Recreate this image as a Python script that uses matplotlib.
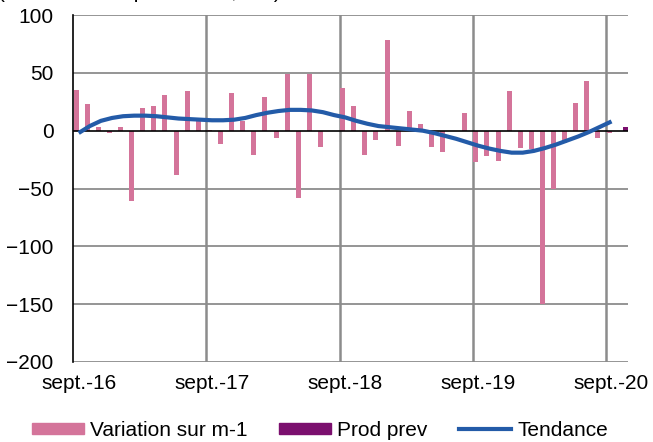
import numpy as np
import matplotlib
matplotlib.use("Agg")
import matplotlib.pyplot as plt
from matplotlib.patches import Patch
from matplotlib.lines import Line2D

plt.rcParams['font.family'] = ['Liberation Sans', 'DejaVu Sans']

# mois de sept.-16 a oct.-20
tick_labels = ["sept.-16", "sept.-17", "sept.-18", "sept.-19", "sept.-20"]

variation = [35.6, 23.3, 3, -2.3, 3.2, -61, 20, 21, 31, -38,
             34.7, 8.6, 1, -11.8, 32.8, 8.6, -20.7, 29.3, -6.3, 48.9,
             -58, 49, -13.8, 0, 36.5, 21, -21, -8, 78, -13,
             17, 5.5, -14, -18, 0, 15, -27, -21.5, -26.5, 34,
             -14.7, -16, -150, -50, -11, 24, 43, -6, -2, np.nan]

prod_prev = [np.nan] * 49 + [3]

tendance = [-2, 4, 8.5, 11, 12.5, 13, 13, 12.5, 11.5, 10.5,
            10, 9.5, 9, 9, 9.5, 11, 13.5, 15.5, 17, 18,
            18, 17.5, 16, 13.5, 11.5, 8.5, 6, 4, 3, 2,
            1, 0, -2, -4.5, -7, -10, -13, -15.5, -17.5, -19,
            -19, -17.5, -15, -12, -8.5, -5, -1, 3.5, 8]

pink = "#D4749A"
purple = "#7B0F6E"
blue = "#235BA8"
grid = "#8C8C8C"

n = len(variation)
x = np.arange(n)
w = 0.45

fig = plt.figure(figsize=(6.53, 4.42), dpi=100)
ax = fig.add_axes([0.112, 0.181, 0.85, 0.785])

for yv in [100, 50, -50, -100, -150, -200]:
    ax.axhline(yv, color=grid, lw=1.3, zorder=0)
for xv in [12, 24, 36, 48]:
    ax.axvline(xv, color=grid, lw=1.8, zorder=0)

ax.bar(x + 0.5 - w / 2, variation, width=w, color=pink, zorder=2)
ax.bar(x + 0.5 + w / 2, prod_prev, width=w, color=purple, zorder=2)
ax.axhline(0, color="black", lw=1.2, zorder=3)
ax.plot(np.arange(len(tendance)) + 0.5, tendance, color=blue, lw=3,
        solid_capstyle="butt", zorder=4)

ax.set_xlim(0, 50)
ax.set_ylim(-200, 100)
ax.set_yticks([100, 50, 0, -50, -100, -150, -200])
ax.set_xticks([0.5, 12.5, 24.5, 36.5, 48.5])
ax.set_xticklabels(tick_labels)
ax.tick_params(axis="both", length=0, labelsize=15)
ax.tick_params(axis="y", pad=14)
ax.tick_params(axis="x", pad=9)
for s in ["top", "right", "bottom"]:
    ax.spines[s].set_visible(False)
ax.spines["left"].set_color("black")
ax.spines["left"].set_linewidth(1.2)

# titre coupe en haut de l'image, comme dans l'original
fig.text(-0.003, 1.0 + 2.5 / 442, "(en milliers de personnes, cvs)",
         fontsize=15, ha="left", va="baseline")

handles = [Patch(color=pink), Patch(color=purple),
           Line2D([], [], color=blue, lw=3)]
fig.legend(handles, ["Variation sur m-1", "Prod prev", "Tendance"],
           loc="center", bbox_to_anchor=(0.49, 0.027), ncol=3,
           frameon=False, fontsize=15, handlelength=2.5, handleheight=0.45,
           handletextpad=0.3, columnspacing=1.5)

fig.savefig("out.png", dpi=100)
